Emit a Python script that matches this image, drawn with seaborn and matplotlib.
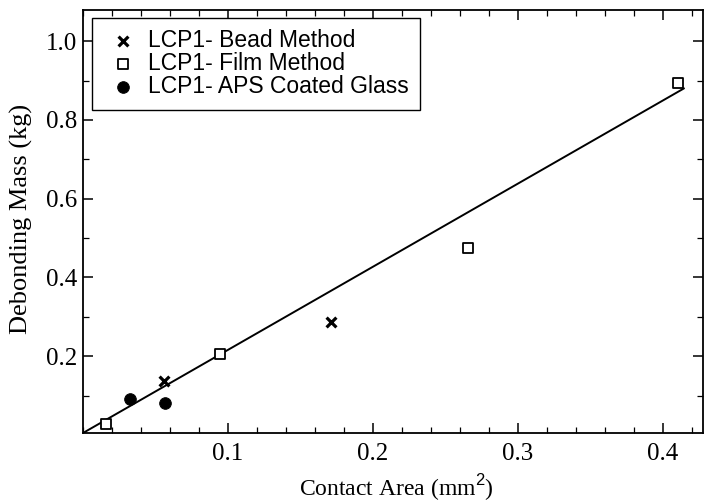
import matplotlib
matplotlib.use("Agg")
import matplotlib.pyplot as plt
import seaborn as sns
import pandas as pd
from matplotlib.ticker import MultipleLocator

sns.set_theme(style="ticks")
plt.rcParams['font.family'] = ['Liberation Serif', 'DejaVu Serif']
plt.rcParams['mathtext.fontset'] = 'custom'
plt.rcParams['mathtext.sf'] = 'Liberation Sans'
plt.rcParams['mathtext.rm'] = 'Liberation Serif'
plt.rcParams['text.color'] = 'black'

# Data
bead_x = [0.0559, 0.171]
bead_y = [0.137, 0.287]
film_x = [0.0157, 0.0945, 0.2657, 0.4106]
film_y = [0.029, 0.205, 0.474, 0.894]
aps_x = [0.0324, 0.0566]
aps_y = [0.0925, 0.080]
fit_x = [0.0, 0.4145]
fit_y = [0.005, 0.880]

labels = ["LCP1- Bead Method", "LCP1- Film Method", "LCP1- APS Coated Glass"]

fig = plt.figure(figsize=(7.04, 5.04), dpi=100)
ax = fig.add_axes([83/704, 1 - 433/504, 620/704, 423/504])

sns.lineplot(x=fit_x, y=fit_y, ax=ax, color='black', lw=1.4, legend=False)
sns.scatterplot(x=bead_x, y=bead_y, ax=ax, marker='x', s=50, color='black',
                linewidth=2.3, label=labels[0], zorder=3)
sns.scatterplot(x=film_x, y=film_y, ax=ax, marker='s', s=48, facecolor='white',
                edgecolor='black', linewidth=1.3, label=labels[1], zorder=3)
sns.scatterplot(x=aps_x, y=aps_y, ax=ax, marker='o', s=70, color='black',
                edgecolor='black', label=labels[2], zorder=3)

ax.set_xlim(0, 0.4276)
ax.set_ylim(0.005, 1.079)
ax.xaxis.set_major_locator(MultipleLocator(0.1))
ax.xaxis.set_minor_locator(MultipleLocator(0.02))
ax.yaxis.set_major_locator(MultipleLocator(0.2))
ax.yaxis.set_minor_locator(MultipleLocator(0.1))
ax.set_xticks([0.1, 0.2, 0.3, 0.4])
ax.set_xticklabels(['0.1', '0.2', '0.3', '0.4'])
ax.set_yticks([0.2, 0.4, 0.6, 0.8, 1.0])
ax.set_yticklabels(['0.2', '0.4', '0.6', '0.8', '1.0'])

ax.tick_params(which='both', direction='in', top=True, right=True, colors='black',
               labelsize=18)
ax.tick_params(which='major', length=7, width=1.1)
ax.tick_params(axis='y', which='major', pad=4)
ax.tick_params(axis='x', which='major', pad=7)
ax.tick_params(which='minor', length=4, width=0.9)
for s in ax.spines.values():
    s.set_color('black')
    s.set_linewidth(1.3)

ax.set_xlabel("Contact Area (mm$^{\\mathsf{2}}$)", fontsize=17, color='black')
ax.set_ylabel("Debonding Mass (kg)", fontsize=19, color='black')
ax.xaxis.set_label_coords(0.506, -0.092)
ax.yaxis.set_label_coords(-0.081, 0.506)

leg = ax.legend(loc='upper left', bbox_to_anchor=(0.0145, 0.981), borderaxespad=0,
                frameon=True, fancybox=False, edgecolor='black', framealpha=1,
                prop={'family': ['Liberation Sans'], 'size': 16.5},
                handletextpad=0.25, labelspacing=0.0, borderpad=0.5, handlelength=1.7)
leg.get_frame().set_linewidth(1.0)
for t in leg.get_texts():
    t.set_color('black')

fig.savefig("out.png", dpi=100)
